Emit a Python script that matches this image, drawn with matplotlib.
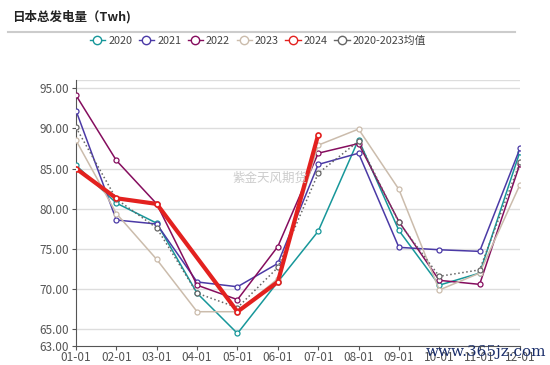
import matplotlib
matplotlib.use("Agg")
import matplotlib.pyplot as plt
from matplotlib.lines import Line2D
import numpy as np

plt.rcParams['font.family'] = ['Noto Sans CJK SC', 'DejaVu Sans']

months = ["01-01", "02-01", "03-01", "04-01", "05-01", "06-01",
          "07-01", "08-01", "09-01", "10-01", "11-01", "12-01"]
s2020 = [85.4, 80.7, 78.2, 69.5, 64.5, 70.9, 77.2, 88.6, 77.3, 70.5, 72.0, 87.1]
s2021 = [92.2, 78.6, 78.1, 70.9, 70.3, 73.2, 85.5, 86.9, 75.2, 74.9, 74.7, 87.5]
s2022 = [94.1, 86.0, 80.6, 70.5, 68.7, 75.3, 86.9, 88.1, 78.4, 71.1, 70.6, 85.6]
s2023 = [88.5, 79.4, 73.7, 67.2, 67.2, 71.3, 87.9, 89.9, 82.4, 69.9, 72.0, 83.0]
s2024 = [85.0, 81.3, 80.6, np.nan, 67.2, 70.9, 89.2, np.nan, np.nan, np.nan, np.nan, np.nan]
savg = [90.1, 81.2, 77.6, 69.5, 67.7, 72.7, 84.4, 88.4, 78.3, 71.6, 72.4, 85.8]
yticks = [63, 65, 70, 75, 80, 85, 90, 95]

series = [
    ("2020", s2020, "#17979a", 1.1, "-"),
    ("2021", s2021, "#4b3aa6", 1.1, "-"),
    ("2022", s2022, "#850d5e", 1.1, "-"),
    ("2023", s2023, "#cbbcac", 1.1, "-"),
    ("2020-2023均值", savg, "#666666", 1.1, ":"),
    ("2024", s2024, "#e3211f", 3.0, "-"),
]

fig = plt.figure(figsize=(5.5, 3.65), dpi=100)
ax = fig.add_axes([76/550, 1-345.5/365, (520-76)/550, (345.5-80)/365])

x = np.arange(len(months))
for name, vals, col, lw, ls in series:
    v = np.array(vals, dtype=float)
    m = ~np.isnan(v)
    ax.plot(x[m], v[m], color=col, lw=lw, ls=ls, marker='o', ms=3.6,
            mfc='white', mec=col, mew=0.9 if lw < 2 else 1.2, zorder=5 if lw > 2 else 3,
            solid_capstyle='round')

ax.set_xlim(0, 11)
ax.set_ylim(63, 96)
ax.set_yticks(yticks)
ax.set_yticklabels([f"{t:.2f}" for t in yticks])
ax.set_xticks(x)
ax.set_xticklabels(months)
for t in [65, 70, 75, 80, 85, 90, 95, 96]:
    ax.axhline(t, color='#dddddd', lw=1.0, zorder=0)
for s in ['top', 'right']:
    ax.spines[s].set_visible(False)
ax.spines['left'].set_color('#555555')
ax.spines['bottom'].set_color('#555555')
ax.tick_params(axis='both', colors='#555555', labelsize=8.5, length=3, width=0.8)
ax.tick_params(axis='y', pad=2)
ax.tick_params(axis='x', pad=1)

# title
fig.text(12/550, 1-17/365, "日本总发电量（Twh)", fontsize=9, fontweight='bold',
         color='#222222', va='center', ha='left')
fig.add_artist(Line2D([8/550, 515/550], [1-32/365, 1-32/365], color='#cccccc', lw=1.5))

# legend
order = ["2020", "2021", "2022", "2023", "2024", "2020-2023均值"]
lookup = {s[0]: s for s in series}
handles = []
for nm in order:
    col = lookup[nm][2]
    handles.append(Line2D([], [], color=col, lw=1.0, marker='o', ms=6, mfc='white', mec=col, mew=1.0))
fig.legend(handles, order, loc='center', bbox_to_anchor=(258/550, 1-41/365), ncol=6,
           frameon=False, fontsize=7.8, handlelength=1.4, handletextpad=0.3,
           columnspacing=0.6, labelcolor='#444444')

# watermarks
fig.text(270/550, 1-178/365, "紫金天风期货", fontsize=9, color='#cccccc', ha='center', va='center', zorder=10)
fig.text(486/550, 1-352/365, "www.365jz.com", fontsize=11, color='#1b2f6b', ha='center', va='center',
         family='DejaVu Serif', zorder=10)

fig.savefig("out.png", dpi=100)
